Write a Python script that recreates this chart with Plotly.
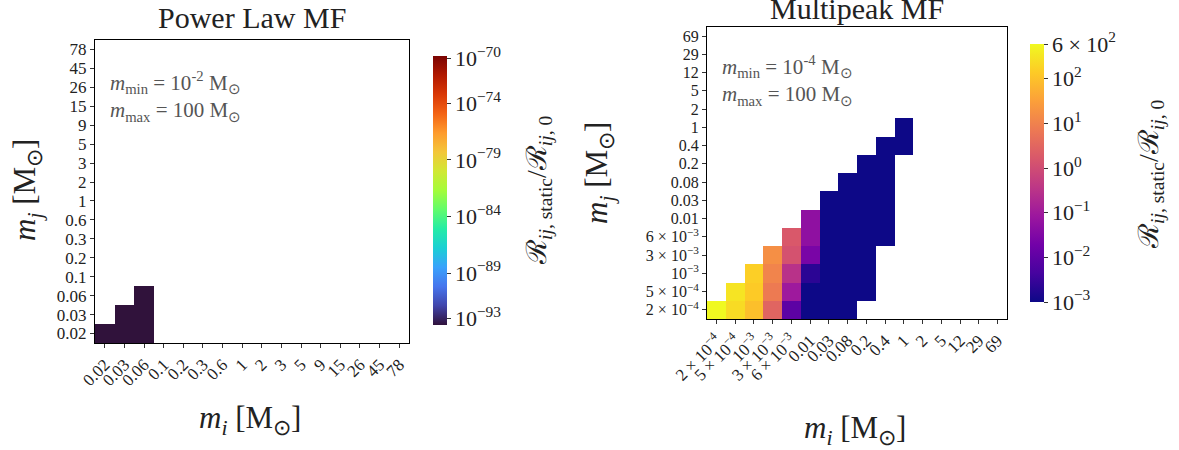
import numpy as np
import plotly.graph_objects as go

# ---------------- data ----------------
pl_labels = ["0.02", "0.03", "0.06", "0.1", "0.2", "0.3", "0.6", "1", "2", "3",
             "5", "9", "15", "26", "45", "78"]
# Power-law MF: per column (m_i index) list of ratio values starting at row 0
pl_columns = {
    0: [2.5e-94],
    1: [2.5e-94, 2.5e-94],
    2: [2.5e-94, 2.5e-94, 2.5e-94],
}
pl_cbar_ticks = [-93, -89, -84, -79, -74, -70]

mp_labels = ["2 × 10<sup>−4</sup>", "5 × 10<sup>−4</sup>", "10<sup>−3</sup>",
             "3 × 10<sup>−3</sup>", "6 × 10<sup>−3</sup>", "0.01", "0.03", "0.08",
             "0.2", "0.4", "1", "2", "5", "12", "29", "69"]
# Multipeak MF: per column -> (first row index, values upward)
mp_columns = {
    0: (0, [600]),
    1: (0, [234, 309]),
    2: (0, [93, 138, 158]),
    3: (0, [2.95, 7.4, 11, 16.6]),
    4: (0, [0.0095, 0.091, 0.30, 1.3, 1.7]),
    5: (0, [0.001, 0.001, 0.0022, 0.025, 0.054, 0.054]),
    6: (0, [0.001] * 7),
    7: (0, [0.001] * 8),
    8: (1, [0.001] * 8),
    9: (4, [0.001] * 6),
    10: (9, [0.001] * 2),
}
mp_cbar_ticks = [-3, -2, -1, 0, 1, 2, np.log10(600)]
mp_cbar_text = ["10<sup>−3</sup>", "10<sup>−2</sup>", "10<sup>−1</sup>", "10<sup>0</sup>",
                "10<sup>1</sup>", "10<sup>2</sup>", "6 × 10<sup>2</sup>"]

# ---------------- build matrices ----------------
n = 16
z_pl = [[None] * n for _ in range(n)]
for c, vals in pl_columns.items():
    for r, v in enumerate(vals):
        z_pl[r][c] = np.log10(v)

z_mp = [[None] * n for _ in range(n)]
for c, (r0, vals) in mp_columns.items():
    for k, v in enumerate(vals):
        z_mp[r0 + k][c] = np.log10(v)

W, H = 1179, 450
FONT = "Liberation Serif"
TXT = "#222222"

def px(xp):
    return xp / W

def py(yp):
    return (H - yp) / H

fig = go.Figure()

fig.add_trace(go.Heatmap(
    z=z_pl, x=list(range(n)), y=list(range(n)),
    colorscale="Turbo", zmin=-93.6, zmax=-69.8,
    xaxis="x", yaxis="y", hoverongaps=False,
    colorbar=dict(
        x=px(433), xanchor="left", y=py((56 + 325) / 2), yanchor="middle",
        len=(325 - 56) / H, lenmode="fraction", thickness=14,
        thicknessmode="pixels", outlinewidth=0, xpad=0, ypad=0,
        tickvals=pl_cbar_ticks,
        ticktext=[f"10<sup>−{abs(t)}</sup>" for t in pl_cbar_ticks],
        ticks="outside", ticklen=4, tickcolor="#333",
        tickfont=dict(family=FONT, size=22, color=TXT),
    ),
))

fig.add_trace(go.Heatmap(
    z=z_mp, x=list(range(n)), y=list(range(n)),
    colorscale="Plasma", zmin=-3, zmax=np.log10(600),
    xaxis="x2", yaxis="y2", hoverongaps=False,
    colorbar=dict(
        x=px(1030), xanchor="left", y=py((44 + 302) / 2), yanchor="middle",
        len=(302 - 44) / H, lenmode="fraction", thickness=14,
        thicknessmode="pixels", outlinewidth=0, xpad=0, ypad=0,
        tickvals=mp_cbar_ticks, ticktext=mp_cbar_text,
        ticks="outside", ticklen=4, tickcolor="#333",
        tickfont=dict(family=FONT, size=22, color=TXT),
    ),
))

axis_common = dict(
    range=[-0.5, n - 0.5], showgrid=False, zeroline=False, automargin=False,
    showline=True, linecolor="black", linewidth=1, mirror=True,
    ticks="outside", ticklen=4, tickcolor="#333",
    tickvals=list(range(n)), tickfont=dict(family=FONT, size=17, color=TXT),
)

fig.update_layout(
    width=W, height=H,
    margin=dict(l=0, r=0, t=0, b=0, autoexpand=False),
    paper_bgcolor="white", plot_bgcolor="white",
    xaxis=dict(axis_common, domain=[px(95), px(409)], anchor="y",
               ticktext=pl_labels, tickangle=-45),
    yaxis=dict(axis_common, domain=[py(343), py(40)], anchor="x",
               ticktext=pl_labels),
    xaxis2=dict(axis_common, domain=[px(707), px(1007)], anchor="y2",
                ticktext=mp_labels, tickangle=-45),
    yaxis2=dict(axis_common, domain=[py(319), py(27)], anchor="x2",
                ticktext=mp_labels, tickfont=dict(family=FONT, size=16, color=TXT)),
    showlegend=False,
)

ann = []
def add(text, x, y, size, angle=0, xanchor="center", yanchor="middle", color=TXT, align="center"):
    ann.append(dict(text=text, x=px(x), y=py(y), xref="paper", yref="paper",
                    showarrow=False, textangle=angle, xanchor=xanchor, yanchor=yanchor,
                    align=align, font=dict(family=FONT, size=size, color=color)))

# titles
add("Power Law MF", 252, 17, 30)
add("Multipeak MF", 857, 8, 30)
# axis titles
mlab_j = "<i>m</i><sub><i>j</i></sub> [M<sub>⊙</sub>]"
mlab_i = "<i>m</i><sub><i>i</i></sub> [M<sub>⊙</sub>]"
add(mlab_j, 27, 190, 31, angle=-90)
add(mlab_i, 250, 420, 31)
add(mlab_j, 599, 173, 31, angle=-90)
add(mlab_i, 855, 430, 31)
# colorbar titles
rlab = "ℛ<sub><i>ij</i>, static</sub>/ℛ<sub><i>ij</i>, 0</sub>"
add(rlab, 538, 190, 28, angle=-90)
add(rlab, 1150, 174, 28, angle=-90)
# in-plot notes
add("<i>m</i><sub>min</sub> = 10<sup>-2</sup> M<sub>⊙</sub><br><i>m</i><sub>max</sub> = 100 M<sub>⊙</sub>",
    108, 96, 21, xanchor="left", color="#555", align="left")
add("<i>m</i><sub>min</sub> = 10<sup>-4</sup> M<sub>⊙</sub><br><i>m</i><sub>max</sub> = 100 M<sub>⊙</sub>",
    720, 80, 21, xanchor="left", color="#555", align="left")

fig.update_layout(annotations=ann)
fig.write_html("out.html")
